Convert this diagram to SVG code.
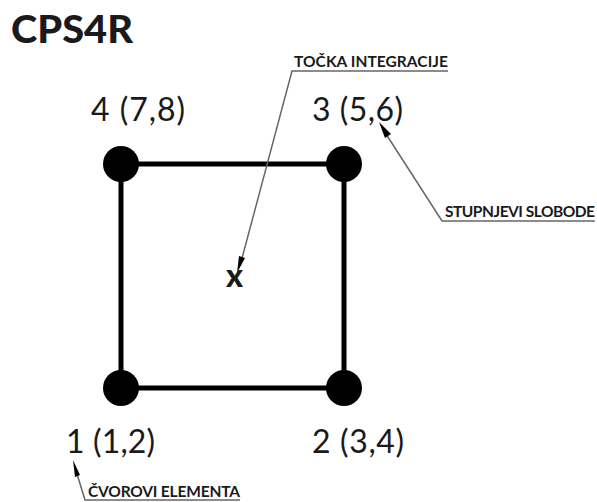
<svg xmlns="http://www.w3.org/2000/svg" width="597" height="502" viewBox="0 0 597 502">
<style>
text{font-family:"Lato","Open Sans","Liberation Sans",sans-serif;fill:#1a1a1a}
.n{font-size:32px;font-weight:400}
.c{font-size:15.5px;font-weight:700}
.e{stroke:#000;stroke-width:5;fill:none}
.l{stroke:#666;stroke-width:1.5;fill:none}
.a{fill:#000}
.d{fill:#000}
</style>
<rect width="597" height="502" fill="#fff"/>
<text x="11" y="43" font-size="38" font-weight="900" textLength="122" lengthAdjust="spacingAndGlyphs">CPS4R</text>
<g id="connectors">
<path class="e" d="M121 164H344V388H121Z"/>
<path class="l" d="M448 71H292L241 262"/>
<path class="a" d="M237 273L239 256L245 258Z"/>
<path class="l" d="M595 221H442L386 134"/>
<path class="a" d="M379 122L391 134L385 138Z"/>
<path class="l" d="M240 500H85L77 474"/>
<path class="a" d="M73 460L80 475L75 477Z"/>
</g>
<g id="node4"><circle class="d" cx="121" cy="164" r="18"/><text class="n" x="91" y="121" textLength="94">4 (7,8)</text></g>
<g id="node3"><circle class="d" cx="344" cy="164" r="18"/><text class="n" x="312" y="121" textLength="91">3 (5,6)</text></g>
<g id="node1"><circle class="d" cx="121" cy="388" r="18"/><text class="n" x="66" y="453" textLength="89">1 (1,2)</text></g>
<g id="node2"><circle class="d" cx="344" cy="388" r="18"/><text class="n" x="312" y="453" textLength="92">2 (3,4)</text></g>
<g id="integration"><text x="226" y="287" font-size="32" font-weight="900">x</text></g>
<g id="label-tocka"><text class="c" x="294" y="67" textLength="154">TOČKA INTEGRACIJE</text></g>
<g id="label-stupnjevi"><text class="c" x="445" y="217" textLength="150">STUPNJEVI SLOBODE</text></g>
<g id="label-cvorovi"><text class="c" x="88" y="497" textLength="152">ČVOROVI ELEMENTA</text></g>
</svg>
